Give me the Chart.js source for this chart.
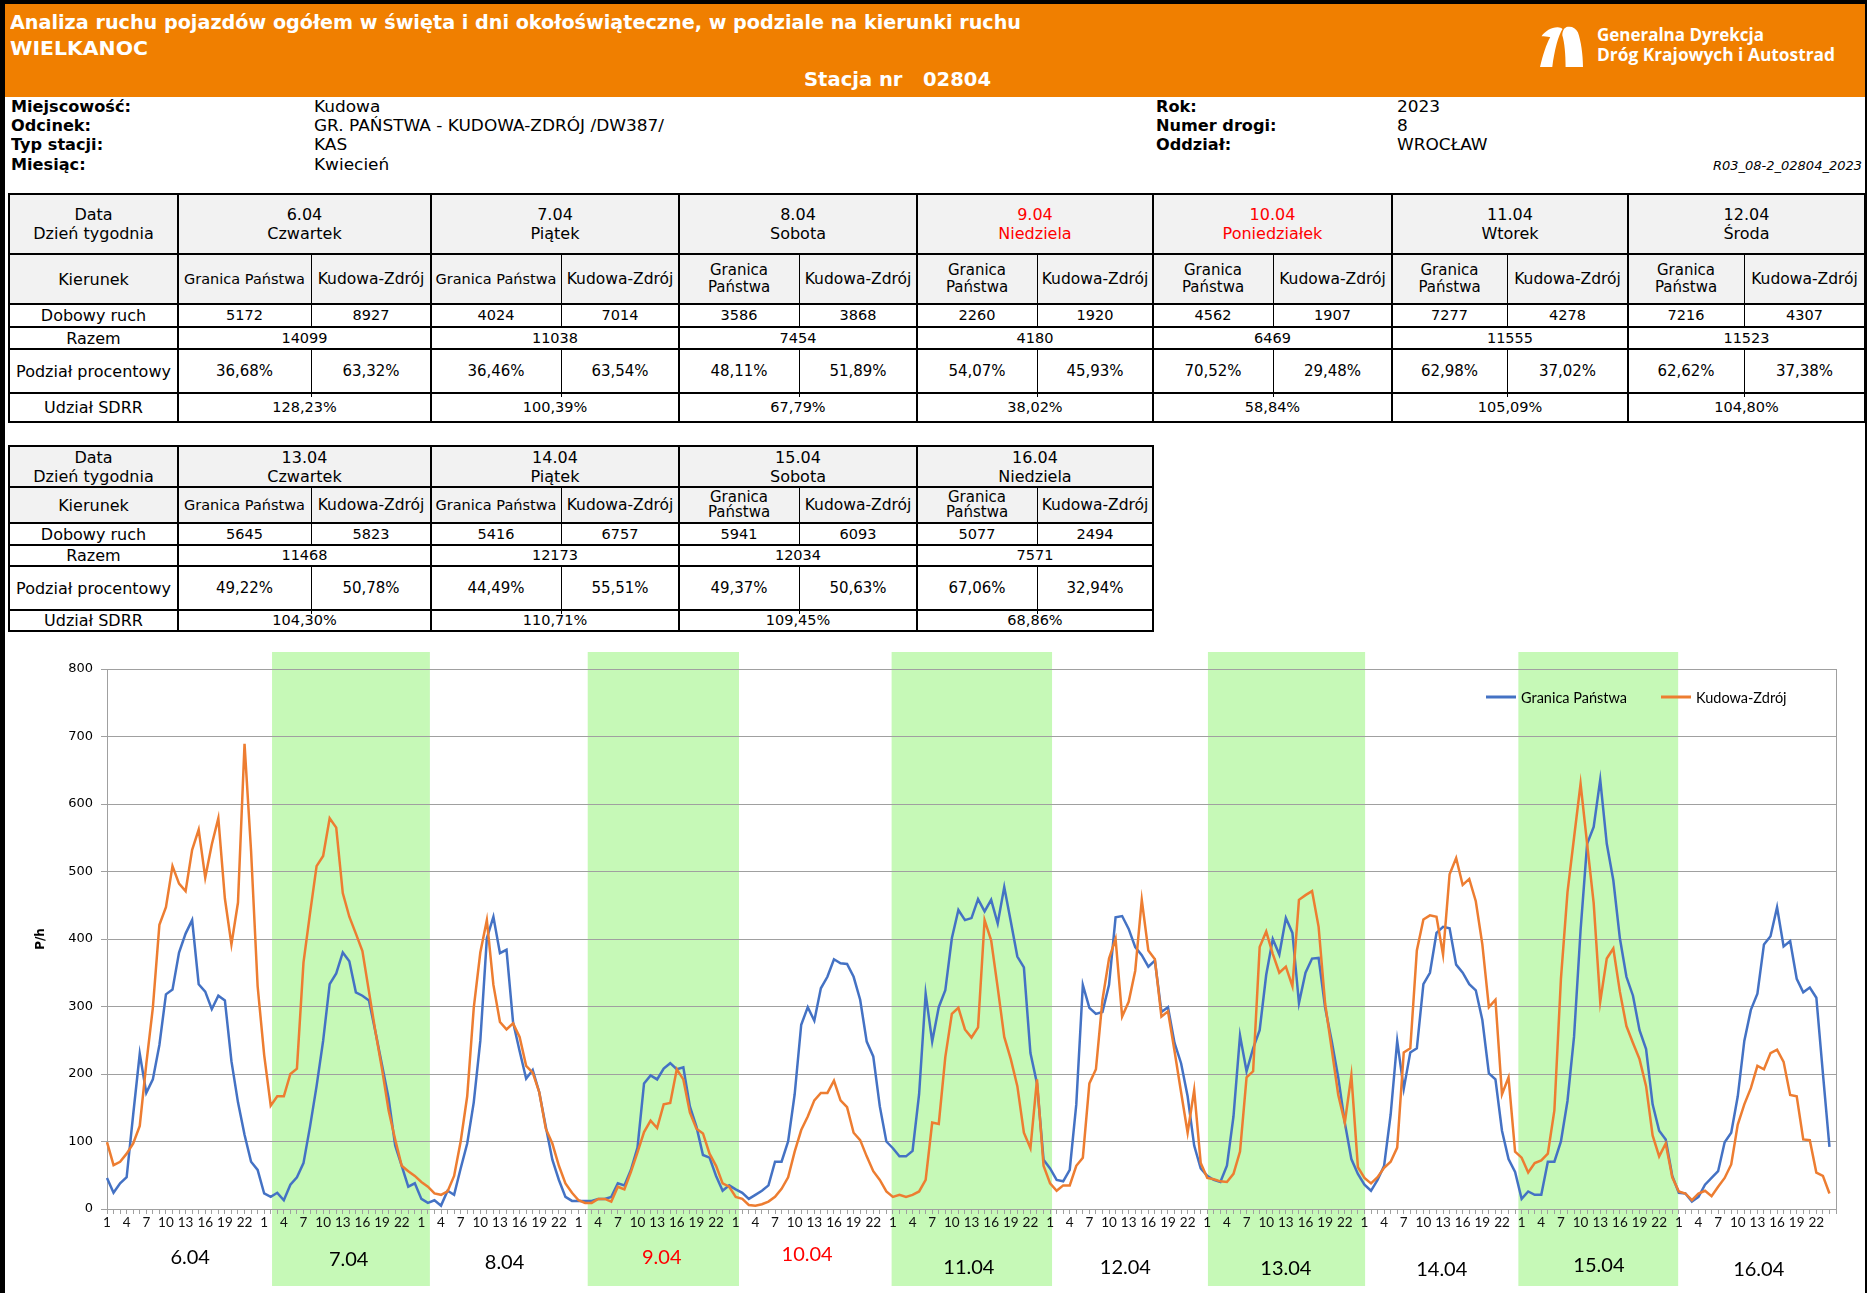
<!DOCTYPE html>
<html><head><meta charset="utf-8">
<script src="https://cdn.jsdelivr.net/npm/chart.js@4.4.0/dist/chart.umd.min.js"></script>
<style>
html,body{margin:0;padding:0;background:#fff;}
body{width:1867px;height:1293px;position:relative;overflow:hidden;font-family:"DejaVu Sans",Verdana,sans-serif;color:#000;}
.t{position:absolute;white-space:nowrap;transform-origin:0 0;}
.hd{color:#fff;font-weight:bold;font-size:19px;line-height:19px;}
.lg{color:#fff;font-weight:bold;font-family:"Open Sans",sans-serif;font-size:17.3px;line-height:18px;}
.il{font-weight:bold;font-size:15px;line-height:15px;}
.iv{font-size:15px;line-height:15px;}
.cell{position:absolute;display:flex;align-items:center;justify-content:center;text-align:center;font-size:14.5px;line-height:17px;color:#000;white-space:nowrap;}
.ln{position:absolute;background:#000;}
.bd{position:absolute;background:#000;z-index:10;}
#c{position:absolute;left:0;top:640px;}
</style></head>
<body>
<div id="hdr" style="position:absolute;left:5px;top:4px;width:1860px;height:93px;background:#f07f00;"></div>
<div id="ttl" class="t hd" style="left:10px;top:13px;">Analiza ruchu pojazdów ogółem w święta i dni okołoświąteczne, w podziale na kierunki ruchu</div>
<div id="wlk" class="t hd" style="left:10px;top:39px;">WIELKANOC</div>
<div id="stc" class="t hd" style="left:804px;top:70px;white-space:pre;">Stacja nr   02804</div>
<svg style="position:absolute;left:1540px;top:26px;" width="44" height="42" viewBox="0 0 43 41">
  <path d="M0,40 C3,28 6,18 10,11 C7,10 4,10 1.5,10 C5,5 11,1.5 17,1.3 C19,1.2 21,2 22,3 C18,9 14,24 12,40 Z" fill="#fff"/>
  <path d="M25,40 C25,28 24,16 21.8,9 C22,4 24,1.5 27,0.8 C31,0 35,2 37,6 C40,14 42,28 42,40 Z" fill="#fff"/>
</svg>
<div id="lg1" class="t lg" style="left:1597px;top:26px;">Generalna Dyrekcja</div>
<div id="lg2" class="t lg" style="left:1597px;top:46px;">Dróg Krajowych i Autostrad</div>

<canvas id="c" width="1867" height="653" style="width:1867px;height:653px;"></canvas>

<div class="bd" style="left:0;top:0;width:5px;height:1293px;"></div>
<div class="bd" style="left:0;top:0;width:1867px;height:4px;"></div>
<div class="bd" style="left:1865px;top:0;width:2px;height:1293px;"></div>

<script>
// ---------- DATA ----------
const days = ['6.04','7.04','8.04','9.04','10.04','11.04','12.04','13.04','14.04','15.04','16.04'];
const dayNames = ['Czwartek','Piątek','Sobota','Niedziela','Poniedziałek','Wtorek','Środa','Czwartek','Piątek','Sobota','Niedziela'];
const holidays = [false,false,false,true,true,false,false,false,false,false,false];
const dailyGranica = [5172,4024,3586,2260,4562,7277,7216,5645,5416,5941,5077];
const dailyKudowa = [8927,7014,3868,1920,1907,4278,4307,5823,6757,6093,2494];
const dailyTotal = [14099,11038,7454,4180,6469,11555,11523,11468,12173,12034,7571];
const pctGranica = ['36,68%','36,46%','48,11%','54,07%','70,52%','62,98%','62,62%','49,22%','44,49%','49,37%','67,06%'];
const pctKudowa = ['63,32%','63,54%','51,89%','45,93%','29,48%','37,02%','37,38%','50,78%','55,51%','50,63%','32,94%'];
const sdrrShare = ['128,23%','100,39%','67,79%','38,02%','58,84%','105,09%','104,80%','104,30%','110,71%','109,45%','68,86%'];
const hours = ['1','2','3','4','5','6','7','8','9','10','11','12','13','14','15','16','17','18','19','20','21','22','23','24'];

// hourly traffic, one row per day (6.04 ... 16.04)
const granicaHourly = [
 [46,24,38,47,140,230,172,192,243,318,325,380,408,428,333,322,296,316,309,219,158,110,70,58],
 [23,18,24,13,36,47,68,122,182,249,333,349,380,367,321,316,309,262,213,164,94,64,33,38],
 [15,9,13,5,27,21,60,97,158,249,401,433,379,384,277,234,193,206,173,122,73,43,18,12],
 [12,12,12,15,15,18,38,35,58,91,186,198,192,208,216,207,210,152,122,80,76,49,27,35],
 [29,24,15,21,27,35,70,70,100,170,273,299,279,327,344,370,364,363,344,310,248,226,152,100],
 [90,78,78,86,170,319,248,299,324,401,443,428,431,459,441,458,423,477,426,374,358,231,186,73],
 [60,43,41,58,155,332,298,289,292,332,432,434,415,388,376,359,368,292,299,246,216,167,94,60],
 [49,43,40,64,137,257,204,238,265,347,400,377,431,409,305,350,371,372,298,249,195,128,74,52],
 [36,27,43,64,140,249,178,232,238,333,350,409,418,416,362,350,333,324,280,201,192,116,74,55],
 [15,26,21,21,70,70,100,160,255,413,541,566,636,541,487,401,344,316,265,237,155,116,103,49],
 [24,23,11,18,36,46,56,99,113,167,249,295,319,392,404,447,389,397,341,321,328,313,201,92]
];
const kudowaHourly = [
 [99,65,70,82,97,123,215,298,421,447,508,482,471,532,562,491,540,579,460,392,454,689,530,330],
 [228,153,167,167,200,208,365,438,508,523,579,565,468,433,408,382,322,262,207,146,103,64,56,49],
 [40,33,23,21,26,49,100,167,298,380,428,332,277,266,275,255,212,202,173,119,97,64,38,24],
 [13,9,9,15,15,11,33,29,55,84,114,131,120,155,157,207,192,143,119,112,82,64,38,33],
 [18,15,6,5,7,11,18,30,47,85,117,137,161,172,172,190,161,151,113,102,78,56,43,26],
 [18,21,18,21,26,43,128,126,225,289,298,266,254,269,428,398,328,255,222,182,113,90,192,64],
 [38,27,35,35,64,76,186,207,310,371,400,285,307,353,458,383,370,285,293,234,173,113,176,68],
 [46,44,41,40,52,85,195,204,388,411,378,350,359,330,458,465,471,418,304,237,169,128,198,62],
 [46,38,47,61,70,91,232,238,383,429,435,433,377,496,520,480,489,456,392,299,310,170,195,85],
 [76,54,68,72,82,146,341,469,550,630,541,453,307,371,386,322,271,246,222,182,109,78,97,47],
 [26,23,13,23,27,19,33,46,66,125,155,179,212,207,231,236,218,169,167,103,102,54,49,23]
];
const yTicks = [0,100,200,300,400,500,600,700,800];

// annotation ranges on the hour axis (index units)
const greenBands = [[25.2,49.3],[73.4,96.5],[119.8,144.3],[168.1,192.1],[215.5,239.9]];
const dayLabelAt = [12.7,36.9,60.7,84.7,106.9,131.6,155.5,180,203.8,227.8,252.2];
const dayLabelY = [1258,1260,1263,1258,1255,1268,1268,1269,1270,1266,1270];

// ---------- helpers ----------
function fitW(el, target){ const w = el.getBoundingClientRect().width; if(w>0) el.style.transform='scaleX('+(target/w)+')'; return target/w; }
function addText(cls, x, y, txt, extra){
  const d=document.createElement('div'); d.className='t '+cls; d.textContent=txt;
  d.style.left=x+'px'; d.style.top=y+'px'; if(extra) Object.assign(d.style, extra);
  document.body.appendChild(d); return d;
}
fitW(document.getElementById('ttl'), 1011);
fitW(document.getElementById('wlk'), 138);
fitW(document.getElementById('stc'), 187);
fitW(document.getElementById('lg1'), 167);
fitW(document.getElementById('lg2'), 238);

// ---------- INFO ----------
const infoRows = [
 ['Miejscowość:','Kudowa','Rok:','2023'],
 ['Odcinek:','GR. PAŃSTWA - KUDOWA-ZDRÓJ /DW387/','Numer drogi:','8'],
 ['Typ stacji:','KAS','Oddział:','WROCŁAW'],
 ['Miesiąc:','Kwiecień','','']
];
const infoY = [107.5,126.5,145.5,165];
const labEls=[], valEls=[];
infoRows.forEach((r,i)=>{
  const top = infoY[i]-7.5;
  labEls.push(addText('il',11,top,r[0])); valEls.push(addText('iv',314,top,r[1]));
  if(r[2]){ labEls.push(addText('il',1156,top,r[2])); valEls.push(addText('iv',1397,top,r[3])); }
});
{ const fl = 120 / labEls[0].getBoundingClientRect().width;
  labEls.forEach(e=> e.style.transform='scaleX('+fl+')');
  const fv = 350 / valEls[2].getBoundingClientRect().width;
  valEls.forEach(e=> e.style.transform='scaleX('+fv+')'); }
addText('iv',0,infoY[3]-7,'R03_08-2_02804_2023',{fontStyle:'italic',fontSize:'13px',left:'auto',right:'5px'});

// ---------- TABLES ----------
function ln(x,y,w,h){ const d=document.createElement('div'); d.className='ln';
  Object.assign(d.style,{left:x+'px',top:y+'px',width:w+'px',height:h+'px'}); document.body.appendChild(d); }
function cell(x1,y1,x2,y2,html,opt){ const d=document.createElement('div'); d.className='cell';
  Object.assign(d.style,{left:x1+'px',top:y1+'px',width:(x2-x1)+'px',height:(y2-y1)+'px'});
  d.innerHTML=html; if(opt) Object.assign(d.style,opt); document.body.appendChild(d); }
function bg(x1,y1,x2,y2,c){ const d=document.createElement('div');
  Object.assign(d.style,{position:'absolute',left:x1+'px',top:y1+'px',width:(x2-x1)+'px',height:(y2-y1)+'px',background:c});
  document.body.appendChild(d); }

function buildTable(X, Y, ds, kLH){
  const x0=X[0], xe=X[X.length-1];
  bg(x0,Y[0],xe,Y[2],'#f2f2f2');
  const rowLabels=['Data<br>Dzień tygodnia','Kierunek','Dobowy ruch','Razem','Podział procentowy','Udział SDRR'];
  rowLabels.forEach((t,r)=> cell(X[0],Y[r],X[1],Y[r+1],t, {fontSize:'16px', lineHeight:r===0?'19px':'17px'}));
  ds.forEach((d,k)=>{
    const a=X[1+2*k], m=X[2+2*k], b=X[3+2*k];
    const col = holidays[d] ? '#ff0000' : '#000';
    cell(a,Y[0],b,Y[1],days[d]+'<br>'+dayNames[d],{lineHeight:'19px',color:col,fontSize:'16px'});
    if ((m-a) < 125) cell(a,Y[1],m,Y[2],'Granica<br>Państwa',{lineHeight:kLH,fontSize:'15px'});
    else cell(a,Y[1],m,Y[2],'Granica Państwa',{fontSize:'14.5px'});
    cell(m,Y[1],b,Y[2],'Kudowa-Zdrój',{fontSize:'15.5px'});
    cell(a,Y[2],m,Y[3],String(dailyGranica[d]));
    cell(m,Y[2],b,Y[3],String(dailyKudowa[d]));
    cell(a,Y[3],b,Y[4],String(dailyTotal[d]));
    cell(a,Y[4],m,Y[5],pctGranica[d],{fontSize:'15px'});
    cell(m,Y[4],b,Y[5],pctKudowa[d],{fontSize:'15px'});
    cell(a,Y[5],b,Y[6],sdrrShare[d]);
    ln(m,Y[1],1,Y[3]-Y[1]);
    ln(m,Y[4],1,Y[5]-Y[4]+4);
    ln(b-1,Y[0]-1,2,Y[6]-Y[0]+2);
  });
  Y.forEach(y=> ln(x0-1,y-1,xe-x0+2,2));
  ln(X[0]-1,Y[0]-1,2,Y[6]-Y[0]+2);
  ln(X[1]-1,Y[0]-1,2,Y[6]-Y[0]+2);
}
buildTable([9,178,311,431,561,679,799,917,1037,1153,1273,1392,1507,1628,1744,1865],
           [194,254,304,327,349,393,422],[0,1,2,3,4,5,6],'17px');
buildTable([9,178,311,431,561,679,799,917,1037,1153],
           [446,487,523,545,566,610,631],[7,8,9,10],'15px');

// ---------- CHART ----------
const xLabels = [];
days.forEach(()=> hours.forEach(h=> xLabels.push(h)));
xLabels.push('');
const granica = granicaHourly.flat();
const kudowa = kudowaHourly.flat();
const CANVAS_TOP = 640;

const bandPlugin = {
  id:'bands',
  beforeDraw(chart){
    const {ctx, scales:{x}} = chart;
    ctx.save(); ctx.fillStyle='#c6f9b7';
    greenBands.forEach(([a,b])=>{
      const x1=x.getPixelForValue(a), x2=x.getPixelForValue(b);
      ctx.fillRect(x1, 12, x2-x1, chart.height-12-7);
    });
    ctx.restore();
  }
};
const overlayPlugin = {
  id:'overlay',
  afterDraw(chart){
    const {ctx, scales:{x}, chartArea:ca} = chart;
    ctx.save();
    ctx.strokeStyle='#a0a0a0'; ctx.lineWidth=1;
    ctx.beginPath(); ctx.moveTo(Math.round(ca.right)+0.5, ca.top); ctx.lineTo(Math.round(ca.right)+0.5, ca.bottom); ctx.stroke();
    ctx.font='20px Lato'; ctx.textAlign='center'; ctx.textBaseline='middle';
    days.forEach((d,i)=>{
      ctx.fillStyle = holidays[i] ? '#ff0000' : '#000';
      ctx.fillText(d, x.getPixelForValue(dayLabelAt[i]), dayLabelY[i]-CANVAS_TOP);
    });
    const ly = 697-CANVAS_TOP;
    const items = chart.data.datasets.map(ds=>({t:ds.label,c:ds.borderColor}));
    const lx = [1486, 1661];
    ctx.font='14.5px Lato'; ctx.textAlign='left'; ctx.textBaseline='middle';
    items.forEach((it,i)=>{
      ctx.strokeStyle=it.c; ctx.lineWidth=3;
      ctx.beginPath(); ctx.moveTo(lx[i],ly); ctx.lineTo(lx[i]+30,ly); ctx.stroke();
      ctx.fillStyle='#000'; ctx.fillText(it.t, lx[i]+35, ly+1);
    });
    ctx.restore();
  }
};

new Chart(document.getElementById('c'), {
  type:'line',
  data:{ labels:xLabels, datasets:[
    {label:'Granica Państwa', data:granica, borderColor:'#4472c4', backgroundColor:'#4472c4', borderWidth:2.5, pointRadius:0, tension:0, order:1},
    {label:'Kudowa-Zdrój', data:kudowa, borderColor:'#ed7d31', backgroundColor:'#ed7d31', borderWidth:2.5, pointRadius:0, tension:0, order:0}
  ]},
  options:{
    responsive:false, animation:false, devicePixelRatio:1,
    layout:{padding:{top:29,right:31,bottom:0,left:0}},
    plugins:{legend:{display:false}, tooltip:{enabled:false}},
    scales:{
      x:{ type:'category', offset:false,
          grid:{drawOnChartArea:false, drawTicks:true, tickLength:5, color:'#a0a0a0'},
          border:{color:'#a0a0a0'},
          ticks:{autoSkip:false, maxRotation:0, minRotation:0, padding:1, color:'#111',
                 font:{family:'Lato', size:13.5},
                 callback(v,i){ return (i%3===0 && i<264) ? this.getLabelForValue(v) : ''; }},
          afterFit(s){ s.height=84; } },
      y:{ min:yTicks[0], max:yTicks[yTicks.length-1],
          afterBuildTicks(s){ s.ticks = yTicks.map(v=>({value:v})); },
          grid:{color:'#a0a0a0', tickLength:6},
          border:{color:'#a0a0a0'},
          ticks:{padding:8, color:'#000', font:{family:'DejaVu Sans', size:13}},
          title:{display:true, text:'P/h', color:'#000', font:{family:'DejaVu Sans', size:12, weight:'bold'}, padding:{top:34,bottom:0}},
          afterFit(s){ s.width=107; } }
    }
  },
  plugins:[bandPlugin, overlayPlugin]
});
</script>
</body></html>
